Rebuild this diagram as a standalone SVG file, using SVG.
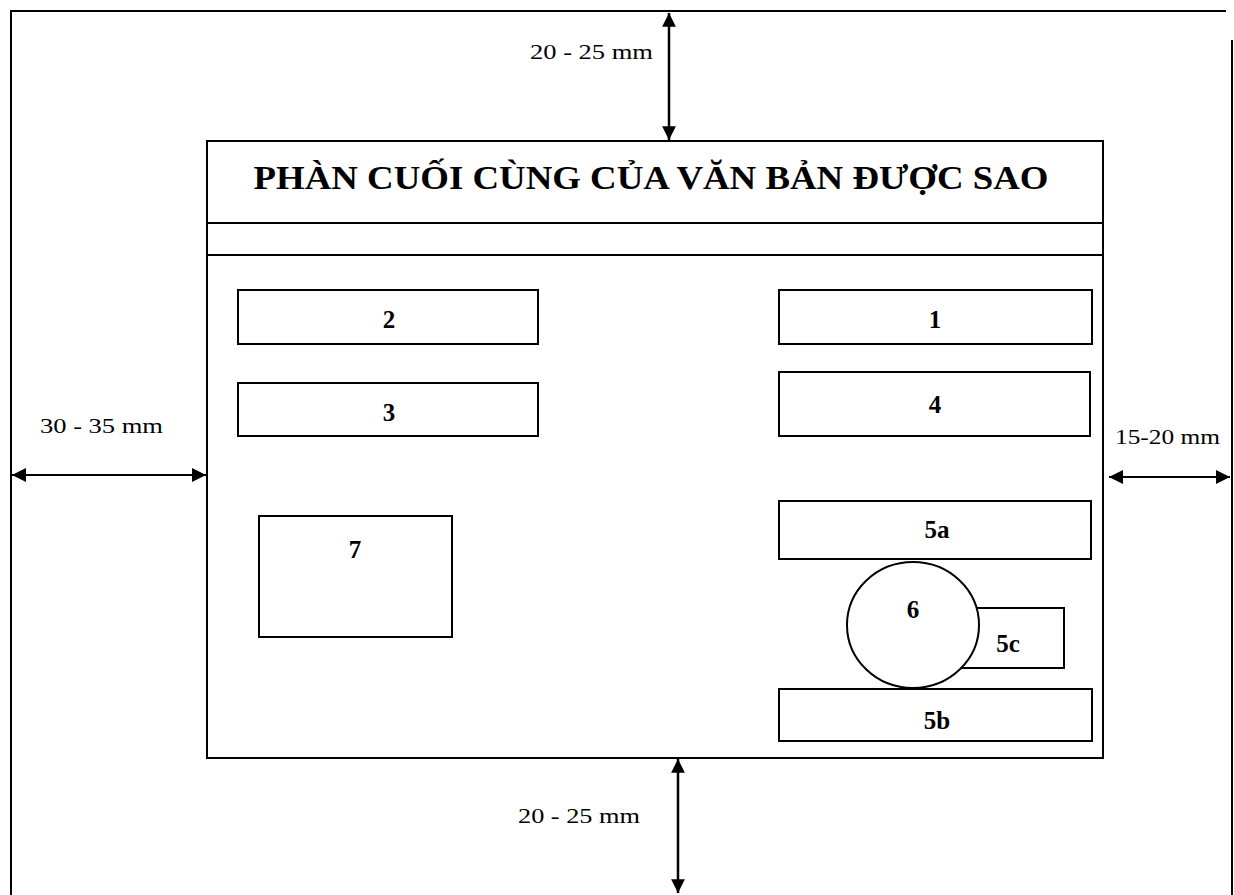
<svg xmlns="http://www.w3.org/2000/svg" width="1234" height="895" viewBox="0 0 1234 895">
<style>
.ln{stroke:#000;stroke-width:2;fill:none}
.bx{stroke:#000;stroke-width:2;fill:#fff}
.lbl{font-family:"Liberation Serif","Times New Roman",serif;font-weight:bold;font-size:25px;text-anchor:middle;fill:#000}
.dim{font-family:"Liberation Serif","Times New Roman",serif;font-size:22px;fill:#000}
.arr{stroke:#000;stroke-width:2.5;fill:none;marker-start:url(#ah);marker-end:url(#ah)}
.arrh{stroke:#000;stroke-width:2;fill:none;marker-start:url(#ah2);marker-end:url(#ah2)}
</style>
<defs>
<marker id="ah" viewBox="0 0 10 10" refX="10" refY="5" markerWidth="6.5" markerHeight="5.5" orient="auto-start-reverse" markerUnits="strokeWidth">
<path d="M0,0 L10,5 L0,10 Z" fill="#000"/>
</marker>
<marker id="ah2" viewBox="0 0 10 10" refX="10" refY="5" markerWidth="8" markerHeight="7" orient="auto-start-reverse" markerUnits="strokeWidth">
<path d="M0,0 L10,5 L0,10 Z" fill="#000"/>
</marker>
</defs>
<rect width="1234" height="895" fill="#fff"/>
<g id="page">
<path d="M11,895 L11,11 L1226,11" class="ln" stroke-width="2.5"/>
<path d="M1232,40 L1232,895" class="ln" stroke-width="2.5"/>
</g>
<g id="document">
<rect x="207" y="141" width="896" height="617" class="ln"/>
<line x1="207" y1="223" x2="1103" y2="223" class="ln"/>
<line x1="207" y1="255" x2="1103" y2="255" class="ln"/>
<text x="651" y="189" font-family="Liberation Serif, Times New Roman, serif" font-weight="bold" font-size="33" text-anchor="middle" textLength="795" lengthAdjust="spacingAndGlyphs">PHÀN CUỐI CÙNG CỦA VĂN BẢN ĐƯỢC SAO</text>
</g>
<g id="n2"><rect x="238" y="290" width="300" height="54" class="bx"/><text x="389" y="328" class="lbl">2</text></g>
<g id="n1"><rect x="779" y="290" width="313" height="54" class="bx"/><text x="935" y="328" class="lbl">1</text></g>
<g id="n3"><rect x="238" y="383" width="300" height="53" class="bx"/><text x="389" y="421" class="lbl">3</text></g>
<g id="n4"><rect x="779" y="372" width="311" height="64" class="bx"/><text x="935" y="413" class="lbl">4</text></g>
<g id="n7"><rect x="259" y="516" width="193" height="121" class="bx"/><text x="355" y="558" class="lbl">7</text></g>
<g id="n5a"><rect x="779" y="501" width="312" height="58" class="bx"/><text x="937" y="538" class="lbl">5a</text></g>
<g id="n5c"><rect x="940" y="608" width="124" height="60" class="bx"/><text x="1008" y="652" class="lbl">5c</text></g>
<g id="n6"><ellipse cx="913" cy="625" rx="66" ry="63" class="bx"/><text x="913" y="618" class="lbl">6</text></g>
<g id="n5b"><rect x="779" y="689" width="313" height="52" class="bx"/><text x="937" y="729" class="lbl">5b</text></g>
<g id="connectors">
<line x1="669" y1="13" x2="669" y2="140" class="arr"/>
<line x1="678" y1="759" x2="678" y2="893" class="arr"/>
<line x1="12" y1="475" x2="206" y2="475" class="arrh"/>
<line x1="1109" y1="477" x2="1230" y2="477" class="arrh"/>
</g>
<g id="labels">
<text x="530" y="59" class="dim" textLength="123" lengthAdjust="spacingAndGlyphs">20 - 25 mm</text>
<text x="518" y="823" class="dim" textLength="122" lengthAdjust="spacingAndGlyphs">20 - 25 mm</text>
<text x="40" y="433" class="dim" textLength="123" lengthAdjust="spacingAndGlyphs">30 - 35 mm</text>
<text x="1115" y="444" class="dim" textLength="105" lengthAdjust="spacingAndGlyphs">15-20 mm</text>
</g>
</svg>
